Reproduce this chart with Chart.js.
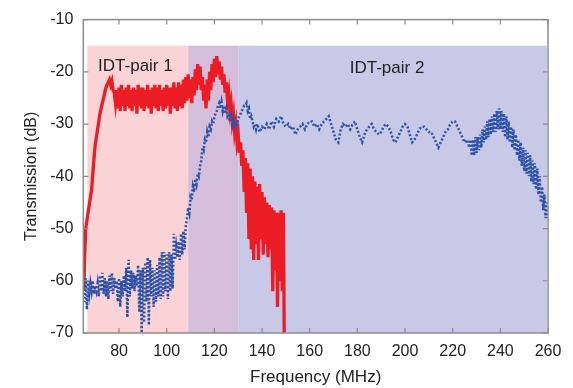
<!DOCTYPE html>
<html><head><meta charset="utf-8">
<script src="https://cdn.jsdelivr.net/npm/chart.js@4/dist/chart.umd.min.js"></script>
<style>html,body{margin:0;padding:0;background:#fff;}canvas{display:block;}</style>
</head><body>
<canvas id="c" width="573" height="388"></canvas>
<script>
const xTicks=[80,100,120,140,160,180,200,220,240,260];
const yTicks=[-70,-60,-50,-40,-30,-20,-10];
const bandNames=['IDT-pair 1','IDT-pair 2'];
const bandFrom=[66.7,109];
const bandTo=[130,259.5];
const bandTop=-15;

// IDT-pair 1 transmission [MHz, dB]
const redTrace=[[65.2,-62],[65.5,-57],[66,-50],[66.5,-48.5],[67,-47],[67.5,-45.5],[68,-44],[68.5,-42.5],[69,-39.5],[69.5,-36.5],[70,-34],[70.5,-32.5],[71,-31],[71.5,-29.5],[72,-28],[72.5,-27],[73,-26],[73.5,-25],[74,-24],[74.5,-23],[75,-22.5],[75.5,-22],[76,-21.5],[76.5,-22.5],[77,-21.8],[77.5,-23.5],[78,-24],[78.5,-26],
[79,-23.5],[79.5,-27],[80,-23],[80.5,-27.5],[81,-22.5],[81.5,-26.5],[82,-23.5],[82.5,-27.5],[83,-23],[83.5,-26.5],[84,-22.5],[84.5,-27],[85,-23.5],[85.5,-27.5],[86,-23],[86.5,-26.5],[87,-23.5],[87.5,-28],[88,-22.5],[88.5,-26.5],[89,-23],[89.5,-27],[90,-23],[90.5,-27.5],[91,-23.5],[91.5,-26.5],[92,-22.5],[92.5,-27],[93,-23.5],[93.5,-28],[94,-23],[94.5,-26.5],[95,-22.5],[95.5,-27],[96,-23],[96.5,-27.5],[97,-22.5],[97.5,-26.5],[98,-23.5],[98.5,-27.5],[99,-23],[99.5,-27],[100,-22.5],[100.5,-26.5],[101,-23],[101.5,-28],[102,-23],[102.5,-26.5],[103,-22],[103.5,-27],[104,-23],[104.5,-27.5],[105,-22],[105.5,-26.5],[106,-22.5],[106.5,-27],[107,-21.5],[107.5,-26],[108,-21],[108.5,-25.5],[109,-20.5],[109.5,-25],[110,-21.5],[110.5,-26],[111,-21],[111.5,-24.5],[112,-19.5],[112.5,-23.5],[113,-18.5],[113.5,-22.5],[114,-19],[114.5,-23.5],[115,-21],[115.5,-25.5],[116,-22.5],[116.5,-27],[117,-21.5],[117.5,-25.5],[118,-20],[118.5,-23.5],[119,-18.5],[119.5,-22],[120,-17.5],[120.5,-21],[121,-17],[121.5,-20.5],[122,-18],[122.5,-21.5],[123,-19],[123.5,-22.5],[124,-20.5],[124.5,-24],[125,-22],[125.5,-25.5],[126,-24],[126.5,-27.5],[127,-26],[127.5,-29.5],[128,-28],[128.5,-31.5],[129,-30],[129.5,-33.5],[130,-32],[130.5,-35.5],[131,-33.5],[131.5,-38],[132,-35],[132.5,-43],[133,-36.5],[133.5,-47],[134,-37.5],[134.5,-52],[135,-38.5],[135.5,-54],[136,-40],[136.5,-56],[137,-41],[137.5,-53],[138,-42],[138.5,-56],[139,-41.5],[139.5,-52],[140,-43],[140.5,-55],[141,-44],[141.5,-53],[142,-45],[142.5,-55.5],[143,-45.5],[143.5,-54],[144,-46],[144.5,-62],[145,-46.5],[145.5,-58],[146,-47],[146.5,-65],[147,-47],[147.5,-60],[148,-46.5],[148.5,-62],[149,-47],[149.3,-70]];

// IDT-pair 2 transmission [MHz, dB]
const blueTrace=[[65,-60],[65.5,-64],[66,-59.5],[66.5,-65.5],[67,-60],[67.5,-62.5],[68,-60.5],[68.5,-62],[69,-60],[69.5,-62.5],[70,-61],[70.5,-62],[71,-60.5],[71.5,-63],[72,-59],[72.5,-62],[73,-58.5],[73.5,-62.5],[74,-59.5],[74.5,-63],[75,-60],[75.5,-63.5],[76,-59],[76.5,-62],[77,-58.5],[77.5,-62.5],[78,-59.5],[78.5,-61.5],[79,-60],[79.5,-64],[80,-59.5],[80.5,-65],[81,-60],[81.5,-63],[82,-59],[82.5,-62],[83,-57.5],[83.5,-67],[84,-56],[84.5,-63],[85,-58],[85.5,-61.5],[86,-58.5],[86.5,-62],[87,-59],[87.5,-61],[88,-57],[88.5,-66],[89,-58],[89.5,-70],[90,-57.5],[90.5,-68],[91,-56.5],[91.5,-64],[92,-55.5],[92.5,-68.5],[93,-56],[93.5,-63],[94,-57.5],[94.5,-65],[95,-58],[95.5,-64],[96,-57],[96.5,-63],[97,-55.5],[97.5,-63.5],[98,-54.5],[98.5,-63],[99,-54.5],[99.5,-62],[100,-55],[100.5,-63.5],[101,-54.5],[101.5,-62],[102,-55],[102.5,-61.5],[103,-51],[103.5,-56],[104,-53.5],[104.5,-55.5],[105,-52.5],[105.5,-56],[106,-51],[106.5,-55],[107,-50.5],[107.5,-54],[108,-49.5],
[108.5,-48],[109,-46],[109.5,-47],[110,-44],[110.5,-44.5],[111,-42],[111.5,-43],[112,-40.5],[112.5,-41.5],[113,-39.5],[113.5,-40],[114,-38],[114.5,-37],[115,-34.5],[115.5,-35],[116,-33],[116.5,-33.5],[117,-31.5],[117.5,-32.5],[118,-30.5],[118.5,-31],[119,-29.5],[119.5,-30],[120,-28.5],[120.5,-28],[121,-27.5],[121.5,-26.5],[122,-26],[122.5,-27],[123,-25.8],[123.5,-27.5],[124,-26.5],[124.5,-28],[125,-27],[125.5,-28.5],[126,-28],[126.5,-29.5],[127,-28.5],[127.5,-30],[128,-29],[128.5,-30.5],[129,-29.5],[129.5,-30],[130,-29],[130.5,-28.5],[131,-28],[131.5,-27.5],[132,-27],[132.5,-26.5],[133,-26.5],[133.5,-26],[134,-27.5],[134.5,-27],[135,-29],[135.5,-28.5],[136,-29.5],[136.5,-30.5],[137,-30],[137.5,-31],
[138,-30],[139,-31.5],[140,-30.5],[141,-31],[142,-30],[143,-31],[144,-29.5],[145,-30.5],[146,-29],[147,-29.5],[148,-28.5],[149,-30],[150,-30.5],[151,-30],[152,-31],[153,-30.5],[154,-32],[155,-31],[156,-30.5],[157,-30],[158,-31],[159,-30],[160,-29.5],[161,-29.5],[162,-30.5],[163,-30],[164,-31],[165,-30],[166,-29.5],[167,-29],[168,-28.5],[169,-30],[170,-31.5],[171,-33],[172,-33.5],[173,-31],[174,-30],[175,-30.5],[176,-30],[177,-31],[178,-30],[179,-29.5],[180,-31],[181,-32.5],[182,-33.5],[183,-32],[184,-31],[185,-30.5],[186,-30],[187,-31],[188,-31.5],[189,-32],[190,-31.5],[191,-30.5],[192,-30],[193,-30.5],[194,-31.5],[195,-33],[196,-33.5],[197,-32.5],[198,-31.5],[199,-30.5],[200,-30],[201,-30.5],[202,-32],[203,-33.5],[204,-33],[205,-32],[206,-31],[207,-30.5],[208,-30.5],[209,-31],[210,-31.5],[211,-31.5],[212,-32.5],[213,-33.5],[214,-34.5],[215,-33.5],[216,-32.5],[217,-31.5],[218,-31],[219,-30],[220,-29.5],[221,-29.5],[222,-30.5],[223,-31.5],[224,-32.5],[225,-33.5],[226,-33],[227,-34.5],
[227.5,-33],[228,-36],[228.5,-33],[229,-36],[229.5,-32.5],[230,-35.5],[230.5,-32.5],[231,-35],[231.5,-32],[232,-34.5],[232.5,-31],[233,-33.5],[233.5,-30.5],[234,-33],[234.5,-29.5],[235,-32.5],[235.5,-29],[236,-32],[236.5,-28.5],[237,-31.5],[237.5,-28],[238,-31.5],[238.5,-27.5],[239,-31],[239.5,-27],[240,-31],[240.5,-27.5],[241,-31.5],[241.5,-28],[242,-32.5],[242.5,-28.5],[243,-33],[243.5,-29.5],[244,-33.5],[244.5,-30.5],[245,-34.5],[245.5,-31],[246,-35],[246.5,-32],[247,-36],[247.5,-33],[248,-37],[248.5,-33.5],[249,-38],[249.5,-34.5],[250,-39],[250.5,-35],[251,-39.5],[251.5,-35.5],[252,-40],[252.5,-36],[253,-41],[253.5,-37],[254,-41.5],[254.5,-37.5],[255,-42.5],[255.5,-38.5],[256,-43.5],[256.5,-40],[257,-45],[257.5,-42],[258,-46.5],[258.5,-43.5],[259,-48],[259.5,-45],[260,-48]];

const FONT='"Liberation Sans", Arial, Helvetica, sans-serif';
const TEXT='#222';

const decor={
  id:'decor',
  beforeDatasetsDraw(chart){
    const {ctx,chartArea:a,scales:{x,y}}=chart;
    const yt=y.getPixelForValue(bandTop), yb=a.bottom;
    const p0=x.getPixelForValue(bandFrom[0]), p1=x.getPixelForValue(bandTo[0]);
    const b0=x.getPixelForValue(bandFrom[1]), b1=x.getPixelForValue(bandTo[1]);
    ctx.save();
    ctx.fillStyle='#f9d3d6'; ctx.fillRect(p0,yt,b0-p0,yb-yt);
    ctx.fillStyle='#d5bedb'; ctx.fillRect(b0,yt,p1-b0,yb-yt);
    ctx.fillStyle='#c7c9e6'; ctx.fillRect(p1,yt,b1-p1,yb-yt);
    ctx.restore();
  },
  afterDatasetsDraw(chart){
    const {ctx,chartArea:a,scales:{x,y}}=chart;
    ctx.save();
    ctx.strokeStyle='#8c8c8c'; ctx.lineWidth=1.5;
    ctx.strokeRect(a.left,a.top,a.right-a.left,a.bottom-a.top);
    ctx.lineWidth=1.2;
    ctx.beginPath();
    xTicks.forEach(v=>{const p=x.getPixelForValue(v);ctx.moveTo(p,a.bottom);ctx.lineTo(p,a.bottom-5);ctx.moveTo(p,a.top);ctx.lineTo(p,a.top+5);});
    yTicks.forEach(v=>{const p=y.getPixelForValue(v);ctx.moveTo(a.left,p);ctx.lineTo(a.left+5,p);ctx.moveTo(a.right,p);ctx.lineTo(a.right-5,p);});
    ctx.stroke();
    ctx.fillStyle=TEXT; ctx.font='17px '+FONT; ctx.textBaseline='middle'; ctx.textAlign='left';
    const lx=[71.2,176.8], ly=[-18.9,-19.3];
    bandNames.forEach((t,i)=>ctx.fillText(t,x.getPixelForValue(lx[i]),y.getPixelForValue(ly[i])));
    ctx.restore();
  }
};

new Chart(document.getElementById('c'),{
  type:'line',
  data:{datasets:[
    {label:'IDT-pair 2',data:blueTrace.map(p=>({x:p[0],y:p[1]})),borderColor:'#2b51a8',borderWidth:2.5,borderDash:[2,2],pointRadius:0,tension:0,fill:false},
    {label:'IDT-pair 1',data:redTrace.map(p=>({x:p[0],y:p[1]})),borderColor:'#ec1c24',borderWidth:3.3,pointRadius:0,tension:0,fill:false}
  ]},
  options:{
    responsive:false,animation:false,devicePixelRatio:1,
    layout:{padding:{left:0,right:25,top:15,bottom:0}},
    plugins:{legend:{display:false},tooltip:{enabled:false}},
    scales:{
      x:{type:'linear',min:65,max:260,
        afterBuildTicks:s=>{s.ticks=xTicks.map(v=>({value:v}));},
        afterFit:s=>{s.height=55;},
        grid:{display:false,drawTicks:false},border:{display:false},
        ticks:{font:{family:FONT,size:16},color:TEXT,padding:9,maxRotation:0,autoSkip:false},
        title:{display:true,text:'Frequency (MHz)',font:{family:FONT,size:17},color:TEXT,padding:{top:0,bottom:0}}},
      y:{type:'linear',min:-70,max:-10,
        afterBuildTicks:s=>{s.ticks=yTicks.map(v=>({value:v}));},
        afterFit:s=>{s.width=83.3;},
        grid:{display:false,drawTicks:false},border:{display:false},
        ticks:{font:{family:FONT,size:16},color:TEXT,padding:10,autoSkip:false},
        title:{display:true,text:'Transmission (dB)',font:{family:FONT,size:16},color:TEXT,padding:{top:22,bottom:0}}}
    }
  },
  plugins:[decor]
});
</script>
</body></html>
